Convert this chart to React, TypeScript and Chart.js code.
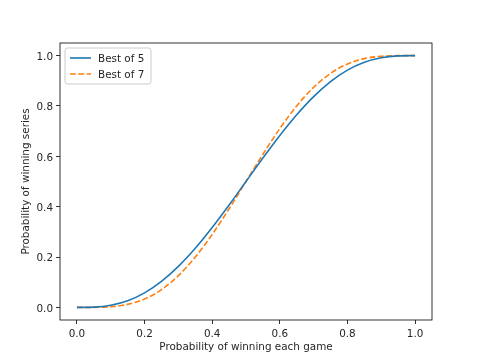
import React, { useEffect, useRef } from "react";
import { Chart, registerables } from "chart.js";

Chart.register(...registerables);

const pValues = [0, 0.05, 0.1, 0.15, 0.2, 0.25, 0.3, 0.35, 0.4, 0.45, 0.5, 0.55, 0.6, 0.65, 0.7, 0.75, 0.8, 0.85, 0.9, 0.95, 1.0];
const bestOf5 = [0, 0.00116, 0.00856, 0.02661, 0.05792, 0.10352, 0.16308, 0.23517, 0.31744, 0.40688, 0.5, 0.59312, 0.68256, 0.76483, 0.83692, 0.89648, 0.94208, 0.97339, 0.99144, 0.99884, 1.0];
const bestOf7 = [0, 0.00019, 0.00273, 0.0121, 0.03334, 0.07056, 0.12604, 0.19985, 0.28979, 0.39171, 0.5, 0.60829, 0.71021, 0.80015, 0.87396, 0.92944, 0.96666, 0.9879, 0.99727, 0.99981, 1.0];
const seriesLabels = ["Best of 5", "Best of 7"];
const tickValues = [0, 0.2, 0.4, 0.6, 0.8, 1.0];
const xTitle = "Probability of winning each game";
const yTitle = "Probability of winning series";

const FONT = "'DejaVu Sans', sans-serif";
const FS = 10.4;
const TEXT = "#262626";

const framePlugin = {
  id: "frame",
  afterDatasetsDraw(chart: any) {
    const { ctx, chartArea } = chart;
    ctx.save();
    ctx.strokeStyle = "#000";
    ctx.lineWidth = 0.8;
    ctx.strokeRect(chartArea.left, chartArea.top, chartArea.right - chartArea.left, chartArea.bottom - chartArea.top);
    ctx.restore();
  },
};

const legendPlugin = {
  id: "mplLegend",
  afterDraw(chart: any) {
    const { ctx, chartArea } = chart;
    const x0 = chartArea.left + 5;
    const y0 = chartArea.top + 5;
    const w = 86;
    const h = 36;
    ctx.save();
    ctx.globalAlpha = 0.8;
    ctx.fillStyle = "#fff";
    ctx.strokeStyle = "#cccccc";
    ctx.lineWidth = 1;
    const r = 2.5;
    ctx.beginPath();
    ctx.moveTo(x0 + r, y0);
    ctx.lineTo(x0 + w - r, y0);
    ctx.arcTo(x0 + w, y0, x0 + w, y0 + r, r);
    ctx.lineTo(x0 + w, y0 + h - r);
    ctx.arcTo(x0 + w, y0 + h, x0 + w - r, y0 + h, r);
    ctx.lineTo(x0 + r, y0 + h);
    ctx.arcTo(x0, y0 + h, x0, y0 + h - r, r);
    ctx.lineTo(x0, y0 + r);
    ctx.arcTo(x0, y0, x0 + r, y0, r);
    ctx.closePath();
    ctx.fill();
    ctx.globalAlpha = 1;
    ctx.stroke();
    chart.data.datasets.forEach((ds: any, i: number) => {
      const yy = y0 + 10 + i * 16;
      ctx.beginPath();
      ctx.strokeStyle = ds.borderColor;
      ctx.lineWidth = ds.borderWidth;
      ctx.setLineDash(ds.borderDash || []);
      ctx.moveTo(x0 + 5, yy);
      ctx.lineTo(x0 + 26, yy);
      ctx.stroke();
      ctx.setLineDash([]);
      ctx.fillStyle = TEXT;
      ctx.font = `${FS}px ${FONT}`;
      ctx.textBaseline = "middle";
      ctx.textAlign = "left";
      ctx.fillText(seriesLabels[i], x0 + 33, yy + 1);
    });
    ctx.restore();
  },
};

export default function App() {
  const ref = useRef<HTMLCanvasElement | null>(null);
  useEffect(() => {
    if (!ref.current) return;
    const mk = (ys: number[]) => pValues.map((x, i) => ({ x, y: ys[i] }));
    const chart = new Chart(ref.current, {
      type: "line",
      data: {
        datasets: [
          {
            label: seriesLabels[0],
            data: mk(bestOf5),
            borderColor: "#1f77b4",
            borderWidth: 1.6,
            pointRadius: 0,
            fill: false,
            cubicInterpolationMode: "monotone",
          },
          {
            label: seriesLabels[1],
            data: mk(bestOf7),
            borderColor: "#ff7f0e",
            borderWidth: 1.6,
            borderDash: [5.8, 2.5],
            pointRadius: 0,
            fill: false,
            cubicInterpolationMode: "monotone",
          },
        ],
      },
      options: {
        responsive: false,
        animation: false,
        events: [],
        layout: { padding: { top: 43, right: 48, left: 0, bottom: 0 } },
        plugins: { legend: { display: false }, tooltip: { enabled: false }, title: { display: false } },
        scales: {
          x: {
            type: "linear",
            min: -0.05,
            max: 1.05,
            afterBuildTicks: (s: any) => {
              s.ticks = tickValues.map((v) => ({ value: v }));
            },
            afterFit: (s: any) => {
              s.height = 40;
            },
            grid: { drawOnChartArea: false, tickLength: 4, tickColor: "#000", tickWidth: 0.8 },
            border: { display: false },
            ticks: {
              color: TEXT,
              font: { family: FONT, size: FS },
              padding: 4.5,
              maxRotation: 0,
              callback: (v: any) => Number(v).toFixed(1),
            },
            title: {
              display: true,
              text: xTitle,
              color: TEXT,
              font: { family: FONT, size: FS },
              padding: { top: 0, bottom: 6 },
            },
          },
          y: {
            type: "linear",
            min: -0.05,
            max: 1.05,
            afterBuildTicks: (s: any) => {
              s.ticks = tickValues.map((v) => ({ value: v }));
            },
            afterFit: (s: any) => {
              s.width = 60;
            },
            grid: { drawOnChartArea: false, tickLength: 4, tickColor: "#000", tickWidth: 0.8 },
            border: { display: false },
            ticks: {
              color: TEXT,
              font: { family: FONT, size: FS },
              padding: 3,
              labelOffset: 1.5,
              callback: (v: any) => Number(v).toFixed(1),
            },
            title: {
              display: true,
              text: yTitle,
              color: TEXT,
              font: { family: FONT, size: FS },
              padding: { top: 20, bottom: 0 },
            },
          },
        },
      },
      plugins: [framePlugin, legendPlugin],
    } as any);
    return () => chart.destroy();
  }, []);
  return (
    <div style={{ position: "fixed", left: 0, top: 0, width: 480, height: 360, background: "#fff" }}>
      <canvas ref={ref} width={480} height={360} style={{ width: 480, height: 360, display: "block" }} />
    </div>
  );
}
